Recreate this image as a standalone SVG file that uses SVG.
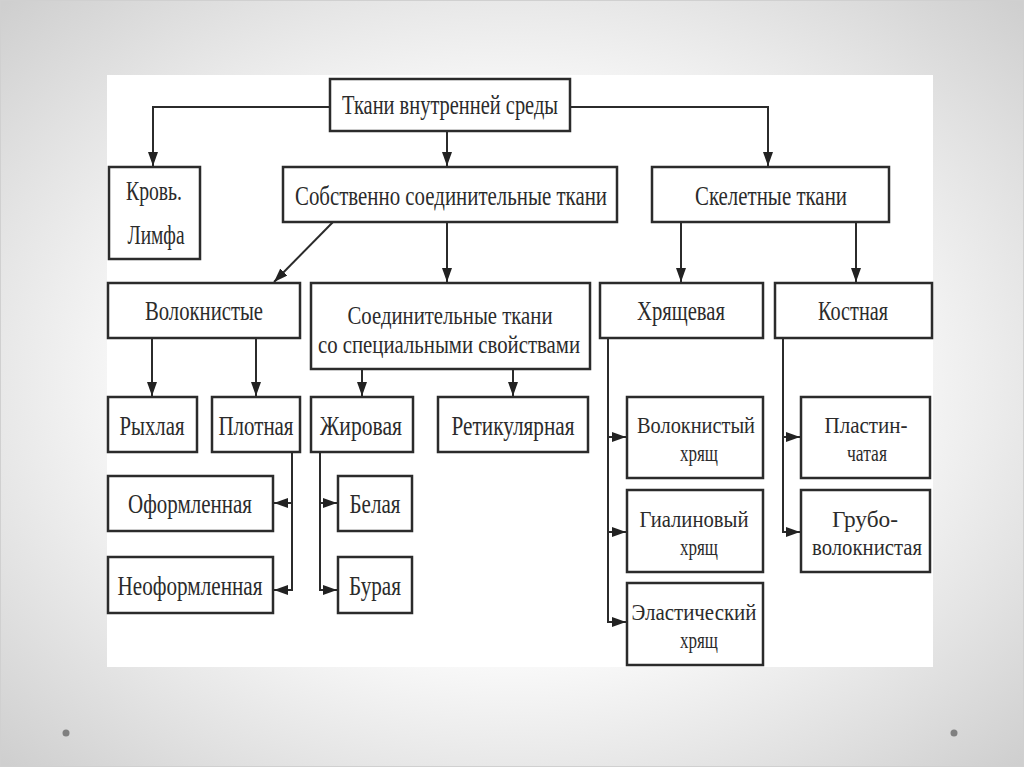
<svg xmlns="http://www.w3.org/2000/svg" width="1024" height="767" viewBox="0 0 1024 767">
<defs>
<radialGradient id="bg" cx="50%" cy="50%" r="70%">
<stop offset="0.45" stop-color="#ffffff"/>
<stop offset="1" stop-color="#cfcfcf"/>
</radialGradient>
<marker id="ah" viewBox="0 0 14 10" refX="14" refY="5" markerWidth="14" markerHeight="10" orient="auto" markerUnits="userSpaceOnUse">
<path d="M0,0 L14,5 L0,10 z" fill="#222"/>
</marker>
<style>
.box{fill:#fff;stroke:#2b2b2b;stroke-width:2.5}
.t{font-family:"Liberation Serif","Times New Roman",serif;font-size:27px;fill:#2b2b2b;text-anchor:middle}
.s{font-size:24px}
.m{font-size:25px}
.c{fill:none;stroke:#2b2b2b;stroke-width:2;marker-end:url(#ah)}
</style>
</defs>
<rect x="0" y="0" width="1024" height="767" fill="url(#bg)"/>
<rect x="0.5" y="0.5" width="1023" height="766" fill="none" stroke="#d0d0d0" stroke-width="1"/>
<rect x="107" y="75" width="826" height="592" fill="#fff"/>
<circle cx="66" cy="733" r="3.5" fill="#808080"/>
<circle cx="954" cy="733" r="3.5" fill="#808080"/>

<g id="connectors">
<path class="c" d="M330,107 H153 V166"/>
<path class="c" d="M570,107 H768 V166"/>
<path class="c" d="M447,131 V166"/>
<path class="c" d="M333,222 L274,282"/>
<path class="c" d="M447,222 V282"/>
<path class="c" d="M681,222 V282"/>
<path class="c" d="M856,222 V282"/>
<path class="c" d="M152,338 V396"/>
<path class="c" d="M256,338 V396"/>
<path class="c" d="M362,369 V396"/>
<path class="c" d="M513,369 V396"/>
<path class="c" d="M292,452 V590 H274"/>
<path class="c" d="M292,503 H274"/>
<path class="c" d="M320,452 V590 H337"/>
<path class="c" d="M320,503 H337"/>
<path class="c" d="M608,338 V622 H626"/>
<path class="c" d="M608,437 H626"/>
<path class="c" d="M608,532 H626"/>
<path class="c" d="M783,338 V532 H800"/>
<path class="c" d="M783,437 H800"/>
</g>

<g id="root"><rect class="box" x="330" y="79" width="240" height="52"/><text class="t" x="450" y="114" textLength="216" lengthAdjust="spacingAndGlyphs">Ткани внутренней среды</text></g>
<g id="blood"><rect class="box" x="109" y="167" width="91" height="92"/><text class="t" x="154" y="200" textLength="56" lengthAdjust="spacingAndGlyphs">Кровь.</text><text class="t" x="156" y="244" textLength="57" lengthAdjust="spacingAndGlyphs">Лимфа</text></g>
<g id="proper"><rect class="box" x="283" y="167" width="334" height="55"/><text class="t" x="451" y="205" textLength="312" lengthAdjust="spacingAndGlyphs">Собственно соединительные ткани</text></g>
<g id="skeletal"><rect class="box" x="652" y="167" width="237" height="55"/><text class="t" x="771" y="205" textLength="152" lengthAdjust="spacingAndGlyphs">Скелетные ткани</text></g>

<g id="fibrous"><rect class="box" x="108" y="283" width="192" height="55"/><text class="t" x="204" y="320" textLength="118" lengthAdjust="spacingAndGlyphs">Волокнистые</text></g>
<g id="special"><rect class="box" x="311" y="283" width="279" height="86"/><text class="t m" x="450" y="324" textLength="205" lengthAdjust="spacingAndGlyphs">Соединительные ткани</text><text class="t m" x="449" y="353" textLength="262" lengthAdjust="spacingAndGlyphs">со специальными свойствами</text></g>
<g id="cartilage"><rect class="box" x="600" y="283" width="163" height="55"/><text class="t" x="681" y="320" textLength="88" lengthAdjust="spacingAndGlyphs">Хрящевая</text></g>
<g id="bone"><rect class="box" x="775" y="283" width="157" height="55"/><text class="t" x="853" y="320" textLength="70" lengthAdjust="spacingAndGlyphs">Костная</text></g>

<g id="loose"><rect class="box" x="108" y="397" width="89" height="55"/><text class="t" x="152" y="435" textLength="65" lengthAdjust="spacingAndGlyphs">Рыхлая</text></g>
<g id="dense"><rect class="box" x="212" y="397" width="88" height="55"/><text class="t" x="256" y="435" textLength="75" lengthAdjust="spacingAndGlyphs">Плотная</text></g>
<g id="adipose"><rect class="box" x="311" y="397" width="102" height="55"/><text class="t" x="361" y="435" textLength="82" lengthAdjust="spacingAndGlyphs">Жировая</text></g>
<g id="reticular"><rect class="box" x="438" y="397" width="150" height="55"/><text class="t" x="513" y="435" textLength="123" lengthAdjust="spacingAndGlyphs">Ретикулярная</text></g>

<g id="formed"><rect class="box" x="108" y="476" width="165" height="55"/><text class="t" x="190" y="513" textLength="124" lengthAdjust="spacingAndGlyphs">Оформленная</text></g>
<g id="unformed"><rect class="box" x="108" y="557" width="165" height="56"/><text class="t" x="190" y="595" textLength="145" lengthAdjust="spacingAndGlyphs">Неоформленная</text></g>
<g id="white"><rect class="box" x="338" y="476" width="74" height="55"/><text class="t" x="375" y="513" textLength="51" lengthAdjust="spacingAndGlyphs">Белая</text></g>
<g id="brown"><rect class="box" x="338" y="557" width="74" height="56"/><text class="t" x="375" y="595" textLength="52" lengthAdjust="spacingAndGlyphs">Бурая</text></g>

<g id="fibrocart"><rect class="box" x="627" y="397" width="136" height="81"/><text class="t s" x="696" y="433" textLength="118" lengthAdjust="spacingAndGlyphs">Волокнистый</text><text class="t s" x="699" y="461" textLength="38" lengthAdjust="spacingAndGlyphs">хрящ</text></g>
<g id="hyaline"><rect class="box" x="627" y="490" width="136" height="82"/><text class="t s" x="694" y="527" textLength="109" lengthAdjust="spacingAndGlyphs">Гиалиновый</text><text class="t s" x="699" y="555" textLength="38" lengthAdjust="spacingAndGlyphs">хрящ</text></g>
<g id="elastic"><rect class="box" x="627" y="583" width="136" height="82"/><text class="t s" x="694" y="620" textLength="125" lengthAdjust="spacingAndGlyphs">Эластический</text><text class="t s" x="699" y="648" textLength="38" lengthAdjust="spacingAndGlyphs">хрящ</text></g>
<g id="lamellar"><rect class="box" x="801" y="397" width="129" height="81"/><text class="t s" x="866" y="433" textLength="83" lengthAdjust="spacingAndGlyphs">Пластин-</text><text class="t s" x="867" y="461" textLength="40" lengthAdjust="spacingAndGlyphs">чатая</text></g>
<g id="coarse"><rect class="box" x="801" y="490" width="129" height="82"/><text class="t s" x="865" y="527" textLength="66" lengthAdjust="spacingAndGlyphs">Грубо-</text><text class="t s" x="867" y="555" textLength="110" lengthAdjust="spacingAndGlyphs">волокнистая</text></g>
</svg>
